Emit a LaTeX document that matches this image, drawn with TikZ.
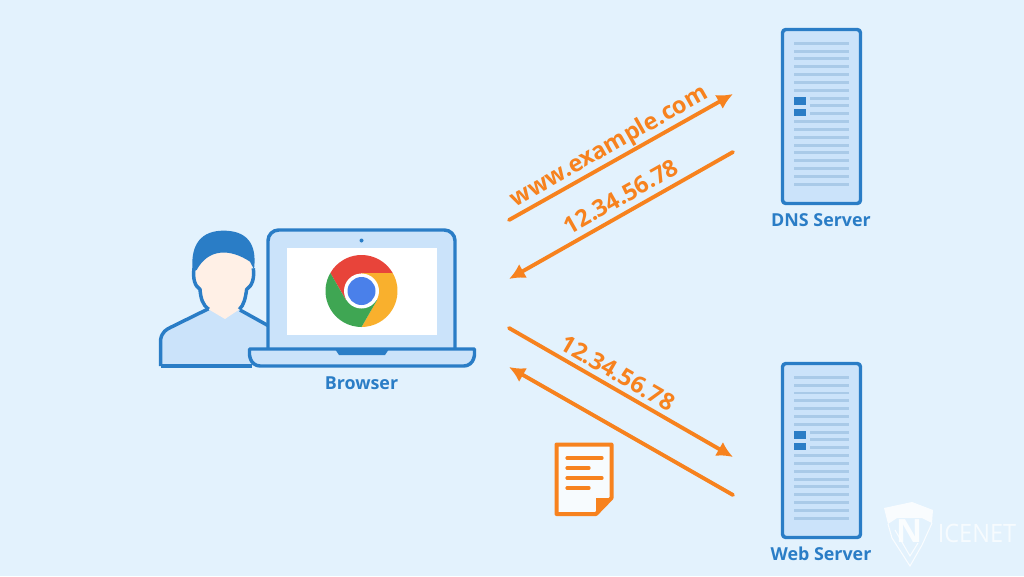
\documentclass[tikz,border=0pt]{standalone}
\usepackage{fontspec}
\setmainfont{Open Sans}
\usetikzlibrary{arrows.meta}
\definecolor{bgblue}{HTML}{E3F2FD}
\definecolor{lineblue}{HTML}{2A7DC6}
\definecolor{paleblue}{HTML}{CBE3FA}
\definecolor{rowblue}{HTML}{A9CAE8}
\definecolor{skin}{HTML}{FFF0E6}
\definecolor{flow}{HTML}{F7821E}
\definecolor{chromered}{HTML}{E8443A}
\definecolor{chromeyellow}{HTML}{F9B02D}
\definecolor{chromegreen}{HTML}{3FA653}
\definecolor{chromeblue}{HTML}{4A80EA}
\tikzset{
    outline/.style={draw=lineblue, line width=2.6pt, line join=round},
    caption/.style={text=lineblue, font=\bfseries\fontsize{13.4}{15}\selectfont},
    flowline/.style={draw=flow, line width=2.9pt, line cap=round, -{Latex[length=12pt, width=12pt]}},
    flowtext/.style={text=flow, font=\bfseries\fontsize{17.6}{20}\selectfont},
    rowline/.style={draw=rowblue, line width=2.2pt},
    docline/.style={draw=flow, line width=2.4pt, line cap=round},
    markline/.style={draw=white, line width=0.8pt, opacity=0.8},
}
\begin{document}
\begin{tikzpicture}[x=0.75pt, y=-0.75pt]
    \fill[bgblue] (0, 0) rectangle (1024, 576);
    \useasboundingbox (0, 0) rectangle (1024, 576);

    \fill[white, opacity=0.8] (884, 508) -- (912, 502) -- (933, 510) -- (932, 523) -- (922, 518) -- (897, 518) -- (888, 524) -- cycle;
    \draw[markline] (888, 524) -- (892, 538) -- (910, 566) -- (922, 545) -- (932, 523);
    \draw[markline] (895, 530) -- (910, 556) -- (918, 543);
    \node[white, opacity=0.85, font=\bfseries\fontsize{24}{26}\selectfont] (mark) at (909, 531) {N};
    \node[white, opacity=0.7, xscale=0.93, font=\fontsize{19}{21}\selectfont] (markname) at (977, 533) {ICENET};

    \begin{scope}[shift={(150, 220)}, x=0.25pt, y=-0.25pt]
        \path[fill=paleblue] (32, 438) -- (32, 358) .. controls (36, 335) and (50, 328) .. (62, 322) -- (176, 266) -- (225, 295) -- (270, 266) -- (360, 320) -- (360, 438) -- cycle;
        \draw[outline] (32, 438) -- (32, 358) .. controls (36, 335) and (50, 328) .. (62, 322) -- (176, 266);
        \draw[outline] (270, 270) -- (360, 320);
        \draw[outline] (32, 438) -- (305, 438);
        \path[fill=skin] (138, 130) -- (136, 190) -- (150, 210) -- (160, 250) -- (176, 268) -- (225, 297) -- (268, 268) -- (288, 210) -- (304, 190) -- (306, 125) .. controls (240, 80) and (170, 90) .. cycle;
        \draw[outline] (132, 145) .. controls (128, 175) and (134, 198) .. (150, 208) .. controls (152, 235) and (158, 255) .. (176, 268);
        \draw[outline] (310, 145) .. controls (314, 175) and (306, 198) .. (290, 208) .. controls (286, 235) and (282, 255) .. (268, 268);
        \fill[lineblue] (128, 152) .. controls (122, 90) and (140, 35) .. (215, 32) .. controls (290, 30) and (322, 70) .. (312, 148) -- (300, 125) .. controls (240, 85) and (175, 85) .. (140, 150) -- cycle;
    \end{scope}

    \draw[outline, fill=paleblue, rounded corners=8pt] (268, 349) -- (268, 230) -- (455, 230) -- (455, 349);
    \fill[white] (287, 248) rectangle (437, 335);
    \fill[lineblue] (361.5, 240.5) circle (2);
    \draw[outline, fill=paleblue] (249.5, 349) -- (474.5, 349) -- (474.5, 355) [rounded corners=6pt] -- (472, 366) -- (252, 366) [sharp corners] -- (249.5, 355) -- cycle;
    \fill[lineblue] (335, 349) -- (389, 349) -- (385, 355) -- (339, 355) -- cycle;
    \node[caption] (browser) at (361.5, 383) {Browser};

    \begin{scope}[shift={(361.5, 291)}, x=0.75pt, y=0.75pt]
        \fill[chromered] (30:36) arc (30:150:36) -- (210:18) -- (90:18) -- cycle;
        \fill[chromeyellow] (30:36) arc (30:-90:36) -- (-30:18) -- (90:18) -- cycle;
        \fill[chromegreen] (150:36) arc (150:270:36) -- (-30:18) -- (210:18) -- cycle;
        \fill[white] (0, 0) circle (17.5);
        \fill[chromeblue] (0, 0) circle (14);
    \end{scope}

    \foreach \offset/\name/\label in {0/dns/DNS Server, 334/web/Web Server} {
        \begin{scope}[yshift=-\offset*0.75pt]
            \draw[outline, fill=paleblue, rounded corners=2.5pt] (782.5, 29.5) rectangle (860.5, 203.5);
            \foreach \row in {0, ..., 18} {
                \ifnum\row>6 \ifnum\row<10
                    \draw[rowline] (810, 43.3 + \row*7.83) -- (849, 43.3 + \row*7.83);
                \else
                    \draw[rowline] (794, 43.3 + \row*7.83) -- (849, 43.3 + \row*7.83);
                \fi \else
                    \draw[rowline] (794, 43.3 + \row*7.83) -- (849, 43.3 + \row*7.83);
                \fi
            }
            \fill[lineblue] (794, 97) rectangle (806, 105);
            \fill[lineblue] (794, 109) rectangle (806, 116);
            \node[caption] (\name) at (821, 220) {\label};
        \end{scope}
    }

    \coordinate (asktail) at (509, 220);
    \coordinate (askhead) at (733, 94);
    \coordinate (replytail) at (733, 152);
    \coordinate (replyhead) at (509, 279);
    \coordinate (gettail) at (509, 328);
    \coordinate (gethead) at (733, 457);
    \coordinate (pagetail) at (733, 495);
    \coordinate (pagehead) at (509, 367);
    \draw[flowline] (asktail) -- (askhead);
    \draw[flowline] (replytail) -- (replyhead);
    \draw[flowline] (gettail) -- (gethead);
    \draw[flowline] (pagetail) -- (pagehead);
    \node[flowtext, rotate=29.5] (url) at (609.5, 147) {www.example.com};
    \node[flowtext, rotate=29.5] (dnsreply) at (621, 196.5) {12.34.56.78};
    \node[flowtext, rotate=-30] (ipget) at (618, 373) {12.34.56.78};

    \draw[draw=flow, fill=white!70!bgblue, line width=3pt, line join=round] (556.5, 444.5) -- (611.5, 444.5) -- (611.5, 498) -- (596, 514) -- (556.5, 514) -- cycle;
    \fill[flow] (596, 498) -- (612, 498) -- (596, 515) -- cycle;
    \draw[docline] (567, 458) -- (602, 458);
    \draw[docline] (567, 468) -- (589, 468);
    \draw[docline] (567, 478) -- (602, 478);
    \draw[docline] (567, 488) -- (589, 488);
\end{tikzpicture}
\end{document}
